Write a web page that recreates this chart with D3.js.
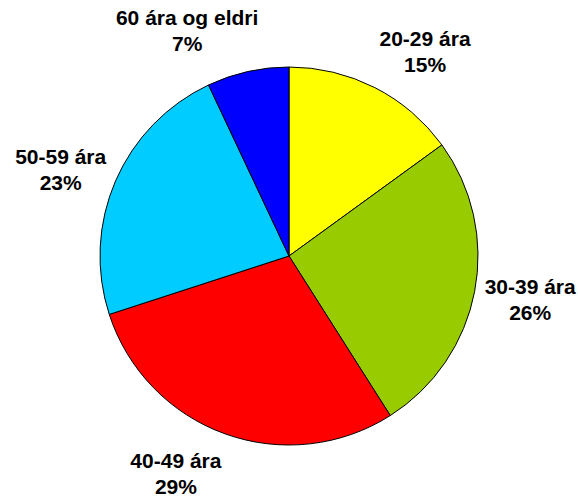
<!DOCTYPE html>
<html>
<head>
<meta charset="utf-8">
<script src="https://cdn.jsdelivr.net/npm/d3@7"></script>
<style>
  html, body { margin: 0; padding: 0; background: #fff; }
  svg { display: block; }
  text { font-family: Arial, "Liberation Sans", sans-serif; font-weight: bold; font-size: 21px; fill: #000; }
</style>
</head>
<body>
<svg id="chart" width="578" height="498"></svg>
<script>
const categories = ["20-29 ára", "30-39 ára", "40-49 ára", "50-59 ára", "60 ára og eldri"];
const values = [15, 26, 29, 23, 7];
const colors = ["#FFFF00", "#99CC00", "#FF0000", "#00CCFF", "#0000FF"];

const cx = 289, cy = 256, R = 189;
const svg = d3.select("#chart");
const g = svg.append("g").attr("transform", `translate(${cx},${cy})`);

const data = categories.map((c, i) => ({ name: c, value: values[i], color: colors[i] }));
const pie = d3.pie().value(d => d.value).sort(null);
const arcs = pie(data);
const arc = d3.arc().innerRadius(0).outerRadius(R);

g.selectAll("path").data(arcs).enter().append("path")
  .attr("d", arc)
  .attr("fill", d => d.data.color)
  .attr("stroke", "#000")
  .attr("stroke-width", 1);

const lineH = 26;
const gap = 10;
const total = d3.sum(values);
arcs.forEach(d => {
  const a = (d.startAngle + d.endAngle) / 2;
  const s = Math.sin(a), c = Math.cos(a);
  const px = (R + gap) * s, py = -(R + gap) * c;
  const pct = Math.round(d.data.value / total * 100) + "%";
  const t = g.append("text").attr("text-anchor", "middle");
  t.append("tspan").attr("x", 0).attr("dy", 0).text(d.data.name);
  t.append("tspan").attr("x", 0).attr("dy", lineH).text(pct);
  const bb = t.node().getBBox();
  const w = bb.width, h = bb.height;
  const k = Math.min(1, 0.45 + 1.7 * Math.abs(s));
  const centerX = px + Math.sign(s) * (w / 2) * k;
  const kv = c > 0 ? Math.pow(c, 1.6) : c;
  const centerY = py - kv * (h / 2 + 8);
  const shiftY = centerY - (bb.y + h / 2);
  t.attr("transform", `translate(${centerX},${shiftY})`);
});
</script>
</body>
</html>
